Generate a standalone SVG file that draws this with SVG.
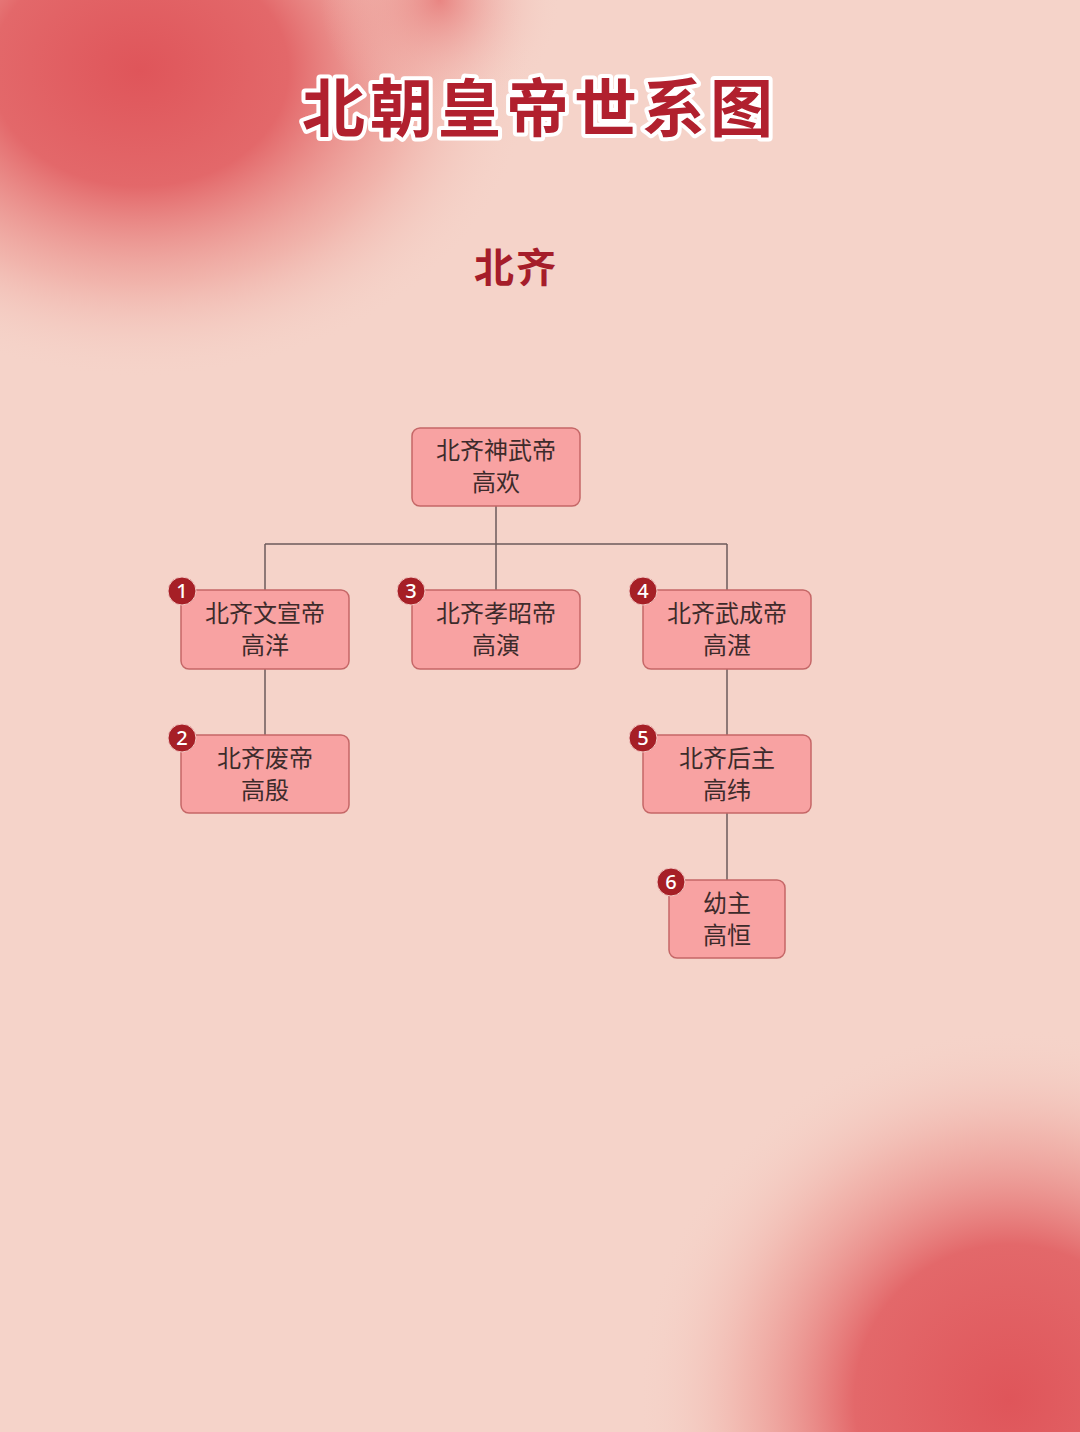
<svg xmlns="http://www.w3.org/2000/svg" width="1080" height="1432" viewBox="0 0 1080 1432">
<defs>
<radialGradient id="blobTL" cx="140" cy="70" r="340" gradientUnits="userSpaceOnUse" gradientTransform="translate(140 70) scale(1.15 0.9) translate(-140 -70)">
<stop offset="0" stop-color="#df555a"/>
<stop offset="0.38" stop-color="#e3686a"/>
<stop offset="0.7" stop-color="#ee9f98" stop-opacity="0.6"/>
<stop offset="1" stop-color="#f5d0c6" stop-opacity="0"/>
</radialGradient>
<radialGradient id="blobBR" cx="1010" cy="1400" r="370" gradientUnits="userSpaceOnUse">
<stop offset="0" stop-color="#df555a"/>
<stop offset="0.42" stop-color="#e3686a"/>
<stop offset="0.72" stop-color="#ee9f98" stop-opacity="0.55"/>
<stop offset="1" stop-color="#f5d0c6" stop-opacity="0"/>
</radialGradient>
<radialGradient id="blobTR" cx="440" cy="0" r="120" gradientUnits="userSpaceOnUse">
<stop offset="0" stop-color="#e46a6a" stop-opacity="0.7"/>
<stop offset="1" stop-color="#f5d0c6" stop-opacity="0"/>
</radialGradient>
</defs>
<style>
.node rect.box{fill:#f8a2a2;stroke:#c56767;stroke-width:1.5}
.node text{font-family:"Noto Sans CJK SC","Noto Sans",sans-serif;font-size:24px;fill:#3d2b2b;text-anchor:middle}
.badge circle{fill:#a61f26;stroke:#f3c9c4;stroke-width:1}
.badge text{font-family:"Noto Sans","Liberation Sans",sans-serif;font-size:20px;fill:#ffffff;text-anchor:middle;font-weight:500}
.conn line{stroke:#6b5a5a;stroke-width:1.5}
</style>
<rect width="1080" height="1432" fill="#f5d3c9"/>
<rect width="1080" height="1432" fill="url(#blobTL)"/>
<rect width="1080" height="1432" fill="url(#blobTR)"/>
<rect width="1080" height="1432" fill="url(#blobBR)"/>

<text x="540" y="131" font-family="Noto Sans CJK SC,sans-serif" font-size="63" font-weight="700" fill="#b1202e" stroke="#ffffff" stroke-width="8" stroke-linejoin="round" paint-order="stroke" text-anchor="middle" letter-spacing="5">北朝皇帝世系图</text>
<text x="516" y="282" font-family="Noto Sans CJK SC,sans-serif" font-size="40" font-weight="700" fill="#a51d2a" text-anchor="middle" letter-spacing="2">北齐</text>

<g id="connectors" class="conn">
<line x1="496" y1="506" x2="496" y2="590"/>
<line x1="265" y1="544" x2="727" y2="544"/>
<line x1="265" y1="544" x2="265" y2="590"/>
<line x1="727" y1="544" x2="727" y2="590"/>
<line x1="265" y1="669" x2="265" y2="735"/>
<line x1="727" y1="669" x2="727" y2="735"/>
<line x1="727" y1="813" x2="727" y2="880"/>
</g>

<g id="node-gaohuan" class="node">
<rect class="box" x="412" y="428" width="168" height="78" rx="8"/>
<text x="496" y="459">北齐神武帝</text>
<text x="496" y="491">高欢</text>
</g>
<g id="node-gaoyang" class="node">
<rect class="box" x="181" y="590" width="168" height="79" rx="8"/>
<text x="265" y="622">北齐文宣帝</text>
<text x="265" y="654">高洋</text>
<g class="badge"><circle cx="182" cy="591" r="14"/><text x="182" y="598">1</text></g>
</g>
<g id="node-gaoyan" class="node">
<rect class="box" x="412" y="590" width="168" height="79" rx="8"/>
<text x="496" y="622">北齐孝昭帝</text>
<text x="496" y="654">高演</text>
<g class="badge"><circle cx="411" cy="591" r="14"/><text x="411" y="598">3</text></g>
</g>
<g id="node-gaozhan" class="node">
<rect class="box" x="643" y="590" width="168" height="79" rx="8"/>
<text x="727" y="622">北齐武成帝</text>
<text x="727" y="654">高湛</text>
<g class="badge"><circle cx="643" cy="591" r="14"/><text x="643" y="598">4</text></g>
</g>
<g id="node-gaoyin" class="node">
<rect class="box" x="181" y="735" width="168" height="78" rx="8"/>
<text x="265" y="767">北齐废帝</text>
<text x="265" y="799">高殷</text>
<g class="badge"><circle cx="182" cy="738" r="14"/><text x="182" y="745">2</text></g>
</g>
<g id="node-gaowei" class="node">
<rect class="box" x="643" y="735" width="168" height="78" rx="8"/>
<text x="727" y="767">北齐后主</text>
<text x="727" y="799">高纬</text>
<g class="badge"><circle cx="643" cy="738" r="14"/><text x="643" y="745">5</text></g>
</g>
<g id="node-gaoheng" class="node">
<rect class="box" x="669" y="880" width="116" height="78" rx="8"/>
<text x="727" y="912">幼主</text>
<text x="727" y="944">高恒</text>
<g class="badge"><circle cx="671" cy="882" r="14"/><text x="671" y="889">6</text></g>
</g>
</svg>
